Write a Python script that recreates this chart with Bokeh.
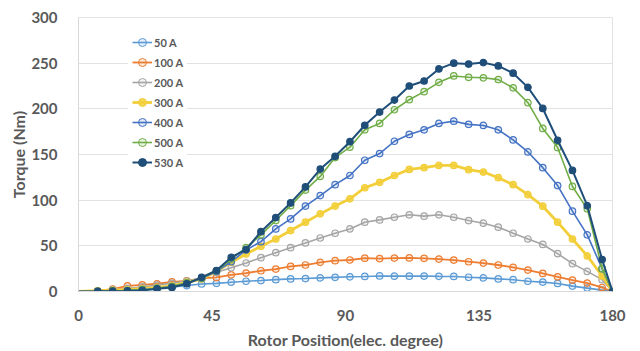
from bokeh.plotting import figure
from bokeh.models import Range1d, FixedTicker, Legend, LegendItem
from bokeh.embed import file_html
from bokeh.resources import INLINE

# Rotor position (elec. degree)
angle = [0, 6.5, 11.5, 16.5, 21.5, 26.5, 31.5, 36.5, 41.5, 46.5, 51.5, 56.5, 61.5,
         66.5, 71.5, 76.5, 81.5, 86.5, 91.5, 96.5, 101.5, 106.5, 111.5, 116.5,
         121.5, 126.5, 131.5, 136.5, 141.5, 146.5, 151.5, 156.5, 161.5, 166.5,
         171.5, 176.5, 180]

t_50 = [0, 0.3, 0.8, 1.5, 2.5, 3.7, 4.8, 6.5, 8.2, 8.9, 10.2, 11.2, 12.0, 13.0,
        13.8, 14.2, 14.9, 15.5, 16.1, 16.5, 17.0, 16.8, 16.8, 16.9, 16.6, 16.5,
        15.6, 14.9, 13.8, 12.9, 11.2, 10.3, 8.8, 5.9, 3.7, 1.5, 0]
t_100 = [0, 0.8, 2.6, 6.2, 7.3, 8.5, 10.6, 11.7, 14.3, 15.4, 18.3, 20.2, 22.7,
         24.6, 27.5, 29.0, 31.9, 33.7, 34.5, 36.5, 36.0, 36.6, 36.8, 36.3, 35.5,
         34.4, 32.6, 31.1, 29.0, 26.4, 23.5, 19.8, 16.1, 12.5, 9.2, 4.4, 0]
t_200 = [0, 0.7, 2.0, 3.5, 5.0, 7.0, 9.0, 11.5, 14.7, 21.0, 26.0, 31.2, 37.0,
         42.5, 48.0, 53.2, 58.6, 63.8, 68.5, 75.9, 78.4, 81.3, 84.0, 82.5, 84.0,
         81.3, 77.7, 74.8, 70.4, 63.8, 57.5, 51.5, 41.5, 30.5, 22.0, 13.0, 0]
t_300 = [0, 0.8, 1.5, 2.2, 3.0, 4.4, 6.2, 10.0, 13.6, 22.0, 32.0, 41.0, 49.5,
         57.5, 66.7, 75.9, 85.0, 93.5, 101.5, 113.6, 119.5, 127.0, 133.7, 135.6,
         138.0, 138.0, 133.4, 130.8, 124.6, 117.0, 106.0, 93.4, 75.9, 57.5, 39.0,
         17.0, 0]
t_400 = [0, 0.3, 0.6, 1.0, 2.0, 3.5, 5.5, 9.0, 14.3, 22.0, 32.6, 45.5, 54.6,
         68.5, 79.5, 93.5, 105.0, 117.0, 127.0, 143.7, 151.0, 164.5, 172.0,
         177.0, 184.0, 186.5, 183.0, 181.8, 177.0, 166.0, 152.8, 135.6, 116.0,
         88.0, 62.0, 25.0, 0]
t_500 = [0, 0.3, 0.6, 1.0, 2.0, 3.5, 5.5, 9.5, 14.7, 22.7, 35.5, 48.0, 62.0,
         77.7, 94.0, 111.0, 126.0, 146.6, 158.0, 177.0, 184.0, 199.0, 210.0,
         218.8, 229.0, 236.0, 234.5, 234.0, 232.0, 223.0, 206.7, 178.5, 157.6,
         115.0, 90.5, 25.0, 0]
t_530 = [0, 0.2, 0.4, 0.6, 1.2, 3.0, 4.5, 8.5, 15.5, 23.0, 37.5, 46.0, 65.5,
         81.0, 97.0, 114.5, 134.0, 148.0, 164.0, 182.0, 196.5, 209.6, 225.0,
         230.5, 243.7, 250.0, 249.0, 250.6, 247.0, 239.0, 223.5, 200.4, 165.6,
         132.6, 94.0, 35.0, 0]

labels = ["50 A", "100 A", "200 A", "300 A", "400 A", "500 A", "530 A"]
series = [t_50, t_100, t_200, t_300, t_400, t_500, t_530]
colors = ["#5b9bd5", "#ed7d31", "#a5a5a5", "#f2cf3a", "#4472c4", "#70ad47", "#1f4e79"]
widths = [1.6, 1.8, 1.6, 2.8, 1.6, 1.6, 2.0]
fill_alphas = [0.15, 0.15, 0.15, 0.85, 0.15, 0.15, 1.0]

x_ticks = [0, 45, 90, 135, 180]
y_ticks = [0, 50, 100, 150, 200, 250, 300]

FONT = "Lato"
TXT = "#595959"

p = figure(width=640, height=351, output_backend="svg", toolbar_location=None,
           x_range=Range1d(0, 180), y_range=Range1d(0, 300),
           min_border_left=78, min_border_right=28, min_border_top=17,
           min_border_bottom=60)
p.background_fill_color = "white"
p.border_fill_color = "white"
p.outline_line_color = "#e2e2e2"

items = []
legend_marks = []
for lab, ys, c, w, fa in zip(labels, series, colors, widths, fill_alphas):
    ln = p.line(angle, ys, line_color=c, line_width=w)
    p.scatter(angle[1:], ys[1:], marker="circle", size=6.5, line_color=c,
              line_width=1.2, fill_color=c, fill_alpha=fa)
    # small marker used for the legend swatch (sits under the end-point marker)
    lg = p.scatter(angle[-1:], ys[-1:], marker="circle", size=4.5, line_color=c,
                   line_width=1, fill_color=c, fill_alpha=fa)
    items.append(LegendItem(label=lab, renderers=[ln, lg]))

legend = Legend(items=items, location=(50, 115))
legend.padding = 4
legend.spacing = 0
legend.margin = 0
legend.glyph_width = 20
legend.glyph_height = 20
legend.label_height = 20
legend.label_standoff = 2
legend.label_text_font = FONT
legend.label_text_font_size = "11px"
legend.label_text_font_style = "bold"
legend.label_text_color = TXT
legend.border_line_alpha = 0
legend.background_fill_color = "white"
legend.background_fill_alpha = 1.0
p.add_layout(legend, "center")

p.xaxis.ticker = FixedTicker(ticks=x_ticks)
p.yaxis.ticker = FixedTicker(ticks=y_ticks)
p.xgrid.grid_line_color = None
p.ygrid.grid_line_color = "#e2e2e2"
p.ygrid.grid_line_width = 1

for ax in (p.xaxis[0], p.yaxis[0]):
    ax.major_tick_line_color = None
    ax.minor_tick_line_color = None
    ax.axis_line_color = "#d9d9d9"
    ax.major_label_text_font = FONT
    ax.major_label_text_font_size = "15px"
    ax.major_label_text_font_style = "bold"
    ax.major_label_text_color = TXT
    ax.axis_label_text_font = FONT
    ax.axis_label_text_font_style = "bold"
    ax.axis_label_text_color = TXT

p.xaxis.axis_label = "Rotor Position(elec. degree)"
p.xaxis.axis_label_text_font_size = "16px"
p.xaxis.major_label_standoff = 12
p.xaxis.axis_label_standoff = 6
p.yaxis.axis_label = "Torque (Nm)"
p.yaxis.axis_label_text_font_size = "16px"
p.yaxis.major_label_standoff = 15
p.yaxis.axis_label_standoff = 0

open("out.html", "w").write(file_html(p, INLINE))
